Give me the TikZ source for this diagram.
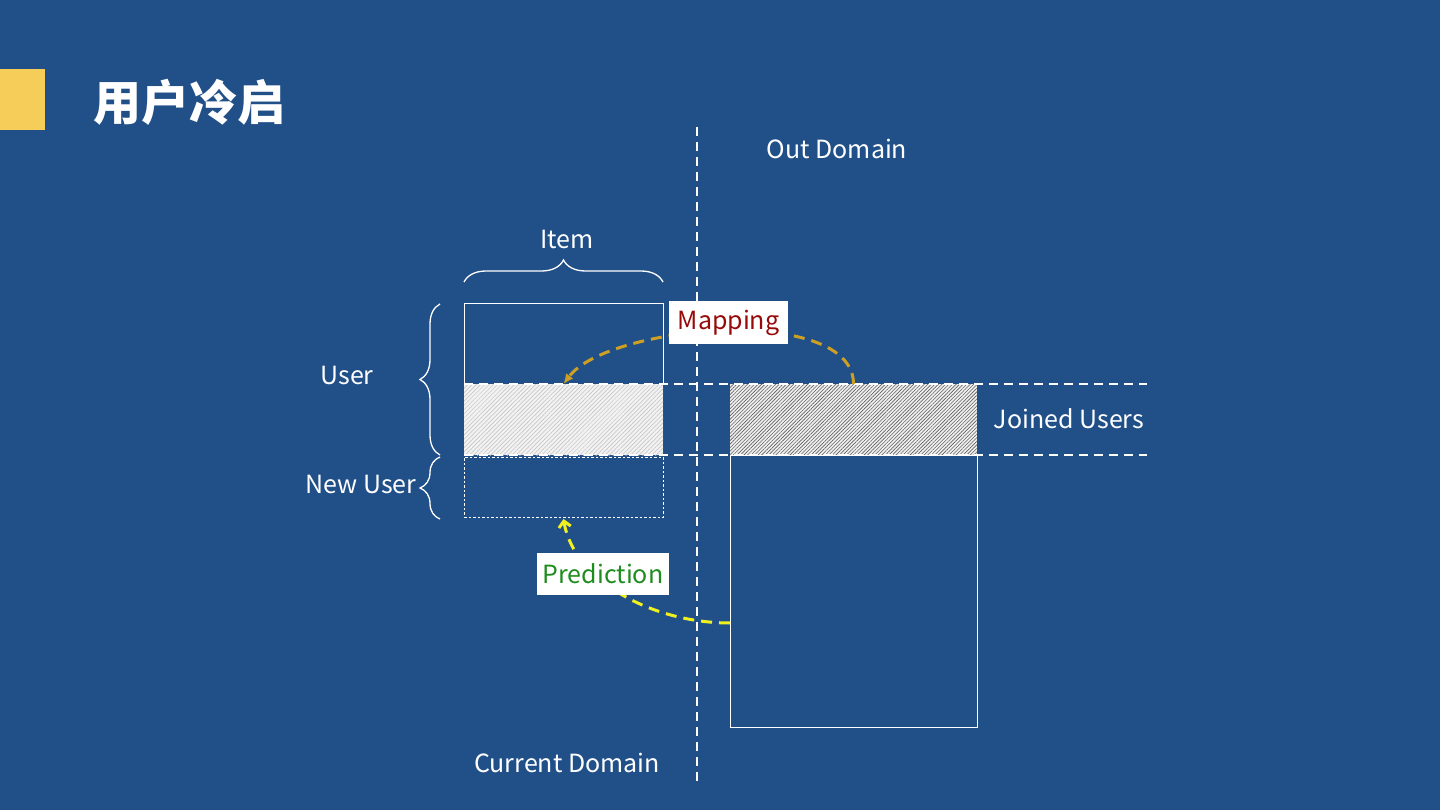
\documentclass[tikz,border=0pt]{standalone}
\usepackage{fontspec}
\setmainfont{Noto Sans CJK SC}
\usetikzlibrary{arrows.meta,decorations.pathreplacing,patterns.meta}
\definecolor{bg}{RGB}{33,80,137}
\definecolor{tab}{RGB}{247,205,90}
\definecolor{mapc}{RGB}{205,160,35}
\definecolor{predc}{RGB}{240,240,30}
\definecolor{mapt}{RGB}{150,10,10}
\definecolor{predt}{RGB}{30,140,30}
\tikzset{
  box/.style={rectangle, inner sep=0pt, outer sep=0pt},
  lbl/.style={text=white, font=\fontsize{25}{28}\selectfont, inner sep=0pt},
  tag/.style={fill=white, inner sep=0pt, font=\fontsize{25}{28}\selectfont},
  sep/.style={draw=white, line width=2.4pt, dash pattern=on 9pt off 6pt},
  curly/.style={draw=white, line width=1.3pt, decorate, decoration={brace, amplitude=#1}},
  curly/.default=20pt,
}
\begin{document}
\begin{tikzpicture}[x=1pt,y=-1pt]
\useasboundingbox (0,0) rectangle (1440,810);
\fill[bg] (0,0) rectangle (1440,810);
\fill[tab] (0,69) rectangle (45,130);
\node[text=white, font=\bfseries\fontsize{48}{52}\selectfont, inner sep=0pt] (title) at (189,102) {用户冷启};

% boxes
\node[box, draw=white, line width=1pt, minimum width=199pt, minimum height=80pt] (topbox) at (563.5,344) {};
\node[box, fill=gray!10, minimum width=199pt, minimum height=71pt] (hatchL) at (563.5,419.5) {};
\fill[pattern={Lines[angle=45,distance=3pt,line width=0.5pt]}, pattern color=gray!50] (hatchL.north west) rectangle (hatchL.south east);
\node[box, draw=white, line width=0.8pt, dash pattern=on 2.5pt off 2pt, minimum width=199pt, minimum height=60pt] (newbox) at (563.5,487) {};
\node[box, fill=gray!12, minimum width=247pt, minimum height=71pt] (hatchR) at (853.5,419.5) {};
\fill[pattern={Lines[angle=45,distance=2.5pt,line width=0.6pt]}, pattern color=gray!75!black] (hatchR.north west) rectangle (hatchR.south east);
\node[box, draw=white, line width=1pt, minimum width=247pt, minimum height=272pt] (bigR) at (853.5,591) {};

% separators
\coordinate (vtop) at (697,127);
\coordinate (vbot) at (697,783);
\draw[sep] (vtop) -- (vbot);
\coordinate (h1a) at (464,384);
\coordinate (h1b) at (1147,384);
\coordinate (h2a) at (464,455);
\coordinate (h2b) at (1147,455);
\draw[sep] (h1a) -- (h1b);
\draw[sep] (h2a) -- (h2b);

% braces
\draw[curly=22pt] ([yshift=22pt]topbox.north west) -- ([yshift=22pt]topbox.north east);
\draw[curly] ([xshift=-24pt]hatchL.south west) -- ([xshift=-24pt]topbox.north west);
\draw[curly=20pt] ([xshift=-24pt,yshift=-2pt]newbox.south west) -- ([xshift=-24pt]newbox.north west);

% labels
\node[lbl] (item) at (567,240) {Item};
\node[lbl] (user) at (347,375) {User};
\node[lbl] (newuser) at (361,484) {New User};
\node[lbl] (out) at (837,149) {Out Domain};
\node[lbl] (cur) at (567,763) {Current Domain};
\node[lbl] (joined) at (1069,419) {Joined Users};

% arrows
\draw[mapc, line width=3pt, dash pattern=on 11pt off 7pt, -{Latex[length=10pt,width=9pt]}]
  (hatchR.north) .. controls +(0,-80) and +(45,-60) .. (hatchL.north);
\node[tag, text=mapt, minimum width=119pt, minimum height=43pt] (map) at (728.5,322.5) {Mapping};

\coordinate (pstart) at (730,623);
\draw[predc, line width=3pt, dash pattern=on 11pt off 7pt, -{Straight Barb[length=6pt,width=12pt]}]
  (pstart) .. controls +(-80,0) and +(10,60) .. ([yshift=-2pt]newbox.south);
\node[tag, text=predt, minimum width=132pt, minimum height=42pt] (pred) at (603,574) {Prediction};
\end{tikzpicture}
\end{document}
